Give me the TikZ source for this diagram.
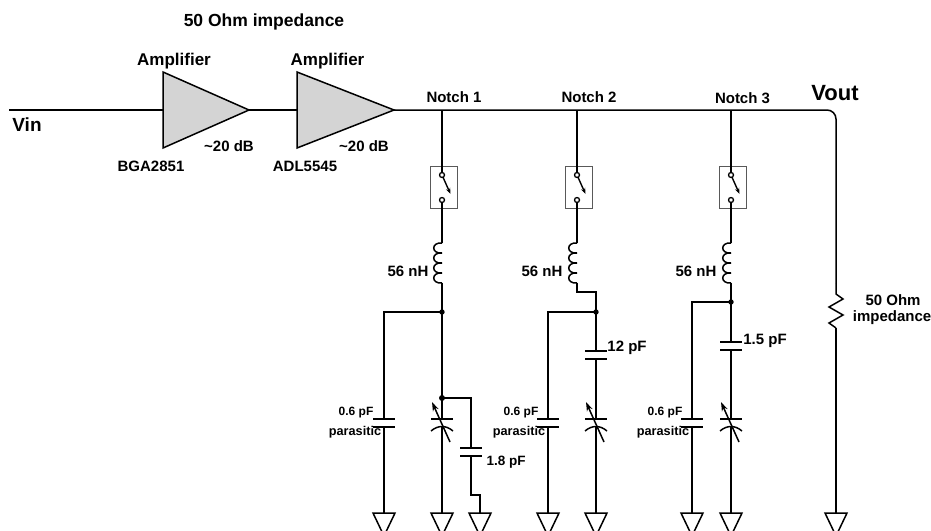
\documentclass[tikz,border=0pt]{standalone}
\usepackage{fontspec}
\setmainfont{Liberation Sans}
\usetikzlibrary{calc,arrows.meta}
\tikzset{
  wire/.style={line width=1.5pt},
  lbl/.style={font=\fontsize{15}{17}\selectfont\bfseries,inner sep=0pt},
  lblbig/.style={font=\fontsize{17}{19}\selectfont\bfseries,inner sep=0pt},
  lblsmall/.style={font=\fontsize{12}{14}\selectfont\bfseries,inner sep=0pt},
  amp/.style={wire,fill=black!17},
  gnd/.pic={\draw[wire] (0,0) coordinate (-top) -- (-11,0) -- (0,23) -- (11,0) -- cycle;},
  capa/.pic={\draw[wire] (-11,0) -- (11,0) (-11,8) -- (11,8);
    \coordinate (-top) at (0,0); \coordinate (-bot) at (0,8);},
  varcap/.pic={\draw[wire] (-11,0) -- (11,0);
    \draw[wire] (-11,12) .. controls (-4,6) and (4,6) .. (11,12);
    \draw[wire,-{Stealth[length=9pt,width=6pt]}] (8,23) -- (-10,-17);
    \coordinate (-top) at (0,0); \coordinate (-bot) at (0,8);},
  coil/.pic={\coordinate (-top) at (0,0); \coordinate (-bot) at (0,40);
    \foreach \k in {0,10,20,30} {\draw[wire] (0,\k) .. controls (-11,\k-1) and (-11,\k+11) .. (0,\k+10);}},
  swbox/.pic={\draw[line width=1pt,black!65] (-12,-9) rectangle (15,33);
    \draw[line width=1.4pt,-{Stealth[length=6pt,width=4.5pt]}] (0,0) -- (8.5,19);
    \draw[line width=1.3pt,fill=white] (0,0) circle (2.5) (0,25) circle (2.5);
    \coordinate (-top) at (0,-2.5); \coordinate (-bot) at (0,27.5);},
  rzig/.pic={\draw[wire] (0,0) coordinate (-top) -- (0,11) -- (7,16) -- (-7,24) -- (7,32) -- (-7,40) -- (0,45) coordinate (-bot);},
}
\begin{document}
\begin{tikzpicture}[x=1pt,y=-1pt]
\path[use as bounding box,clip] (0,0) rectangle (931,530);
% amplifiers
\draw[amp] (163,72) -- (163,148) -- (249,110) coordinate (a1out) -- cycle;
\draw[amp] (297,72) -- (297,148) -- (394,110) coordinate (a2out) -- cycle;
\coordinate (vin) at (9,110); \coordinate (a1in) at (163,110); \coordinate (a2in) at (297,110);
\coordinate (n1) at (442,110); \coordinate (n2) at (577,110); \coordinate (n3) at (731,110);
\coordinate (corner) at (836,110);
% notch parts
\pic (sw1) at (442,175) {swbox}; \pic (sw2) at (577,175) {swbox}; \pic (sw3) at (731,175) {swbox};
\pic (l1) at (442,243) {coil}; \pic (l2) at (577,243) {coil}; \pic (l3) at (731,243) {coil};
\pic (cp1) at (384,419) {capa}; \pic (cp2) at (548,419) {capa}; \pic (cp3) at (692,419) {capa};
\pic (vc1) at (442,419) {varcap}; \pic (vc2) at (596,419) {varcap}; \pic (vc3) at (731,419) {varcap};
\pic (c1) at (471,448) {capa}; \pic (c2) at (596,351) {capa}; \pic (c3) at (731,342) {capa};
\pic (r) at (836,283) {rzig};
\pic (g1) at (384,513) {gnd}; \pic (g2) at (442,513) {gnd}; \pic (g3) at (480,513) {gnd};
\pic (g4) at (548,513) {gnd}; \pic (g5) at (596,513) {gnd};
\pic (g6) at (692,513) {gnd}; \pic (g7) at (731,513) {gnd}; \pic (g8) at (836,513) {gnd};
\coordinate (j1) at (442,312); \coordinate (j1b) at (442,398); \coordinate (j2) at (596,312); \coordinate (j3) at (731,302);
\fill (j1) circle (2.7) (j1b) circle (3) (j2) circle (2.7) (j3) circle (2.7);
% wires
\draw[wire] (vin) -- (a1in); \draw[wire] (a1out) -- (a2in);
\draw[wire,rounded corners=9pt] (a2out) -- (n1) -- (n2) -- (n3) -- (corner) -- (r-top);
\draw[wire] (r-bot) -- (g8-top);
\draw[wire] (n1) -- (sw1-top); \draw[wire] (n2) -- (sw2-top); \draw[wire] (n3) -- (sw3-top);
\draw[wire] (sw1-bot) -- (l1-top); \draw[wire] (sw2-bot) -- (l2-top); \draw[wire] (sw3-bot) -- (l3-top);
\draw[wire] (l1-bot) -- (j1) -- (j1b) -- (vc1-top); \draw[wire] (vc1-bot) -- (g2-top);
\draw[wire] (l3-bot) -- (j3) -- (c3-top); \draw[wire] (c3-bot) -- (vc3-top); \draw[wire] (vc3-bot) -- (g7-top);
\draw[wire] (l2-bot) -- ++(0,9) -| (j2); \draw[wire] (j2) -- (c2-top); \draw[wire] (c2-bot) -- (vc2-top); \draw[wire] (vc2-bot) -- (g5-top);
\draw[wire] (j1) -| (cp1-top); \draw[wire] (j2) -| (cp2-top); \draw[wire] (j3) -| (cp3-top);
\draw[wire] (cp1-bot) -- (g1-top); \draw[wire] (cp2-bot) -- (g4-top); \draw[wire] (cp3-bot) -- (g6-top);
\draw[wire] (j1b) -| (c1-top); \draw[wire] (c1-bot) |- (480,495) -- (g3-top);
% labels
\node[lblbig,font=\fontsize{17.5}{19}\selectfont\bfseries] (title) at (264,22) {50 Ohm impedance};
\node[lblbig] (ampa) at (174,61) {Amplifier}; \node[lblbig] (ampb) at (327.5,61) {Amplifier};
\node[lblbig,font=\fontsize{19}{21}\selectfont\bfseries] (vinl) at (27,125) {Vin};
\node[lblbig,font=\fontsize{22}{24}\selectfont\bfseries] (voutl) at (835,93) {Vout};
\node[lbl] (gaina) at (229,146) {\textasciitilde 20 dB}; \node[lbl] (gainb) at (364,146) {\textasciitilde 20 dB};
\node[lbl] (bga) at (151,166) {BGA2851}; \node[lbl] (adl) at (305,166) {ADL5545};
\node[lbl] (not1) at (454,97) {Notch 1}; \node[lbl] (not2) at (589,97) {Notch 2}; \node[lbl] (not3) at (742.5,98) {Notch 3};
\node[lbl] (la) at (408,271) {56 nH}; \node[lbl] (lb) at (542,271) {56 nH}; \node[lbl] (lc) at (696,271) {56 nH};
\node[lblsmall] (pa) at (356,413) {0.6 pF}; \node[lblsmall] (pb) at (521,413) {0.6 pF}; \node[lblsmall] (pc) at (665,413) {0.6 pF};
\node[lblsmall,font=\fontsize{12.7}{14}\selectfont\bfseries] (qa) at (355,432) {parasitic};
\node[lblsmall,font=\fontsize{12.7}{14}\selectfont\bfseries] (qb) at (519,432) {parasitic};
\node[lblsmall,font=\fontsize{12.7}{14}\selectfont\bfseries] (qc) at (663,432) {parasitic};
\node[lbl,font=\fontsize{13.5}{15}\selectfont\bfseries] (ca) at (506,462) {1.8 pF}; \node[lbl] (cb) at (627,348) {12 pF}; \node[lbl] (cc) at (765,341) {1.5 pF};
\node[lbl] (ra) at (893,300) {50 Ohm}; \node[lbl] (rb) at (892,318) {impedance};
\end{tikzpicture}
\end{document}
